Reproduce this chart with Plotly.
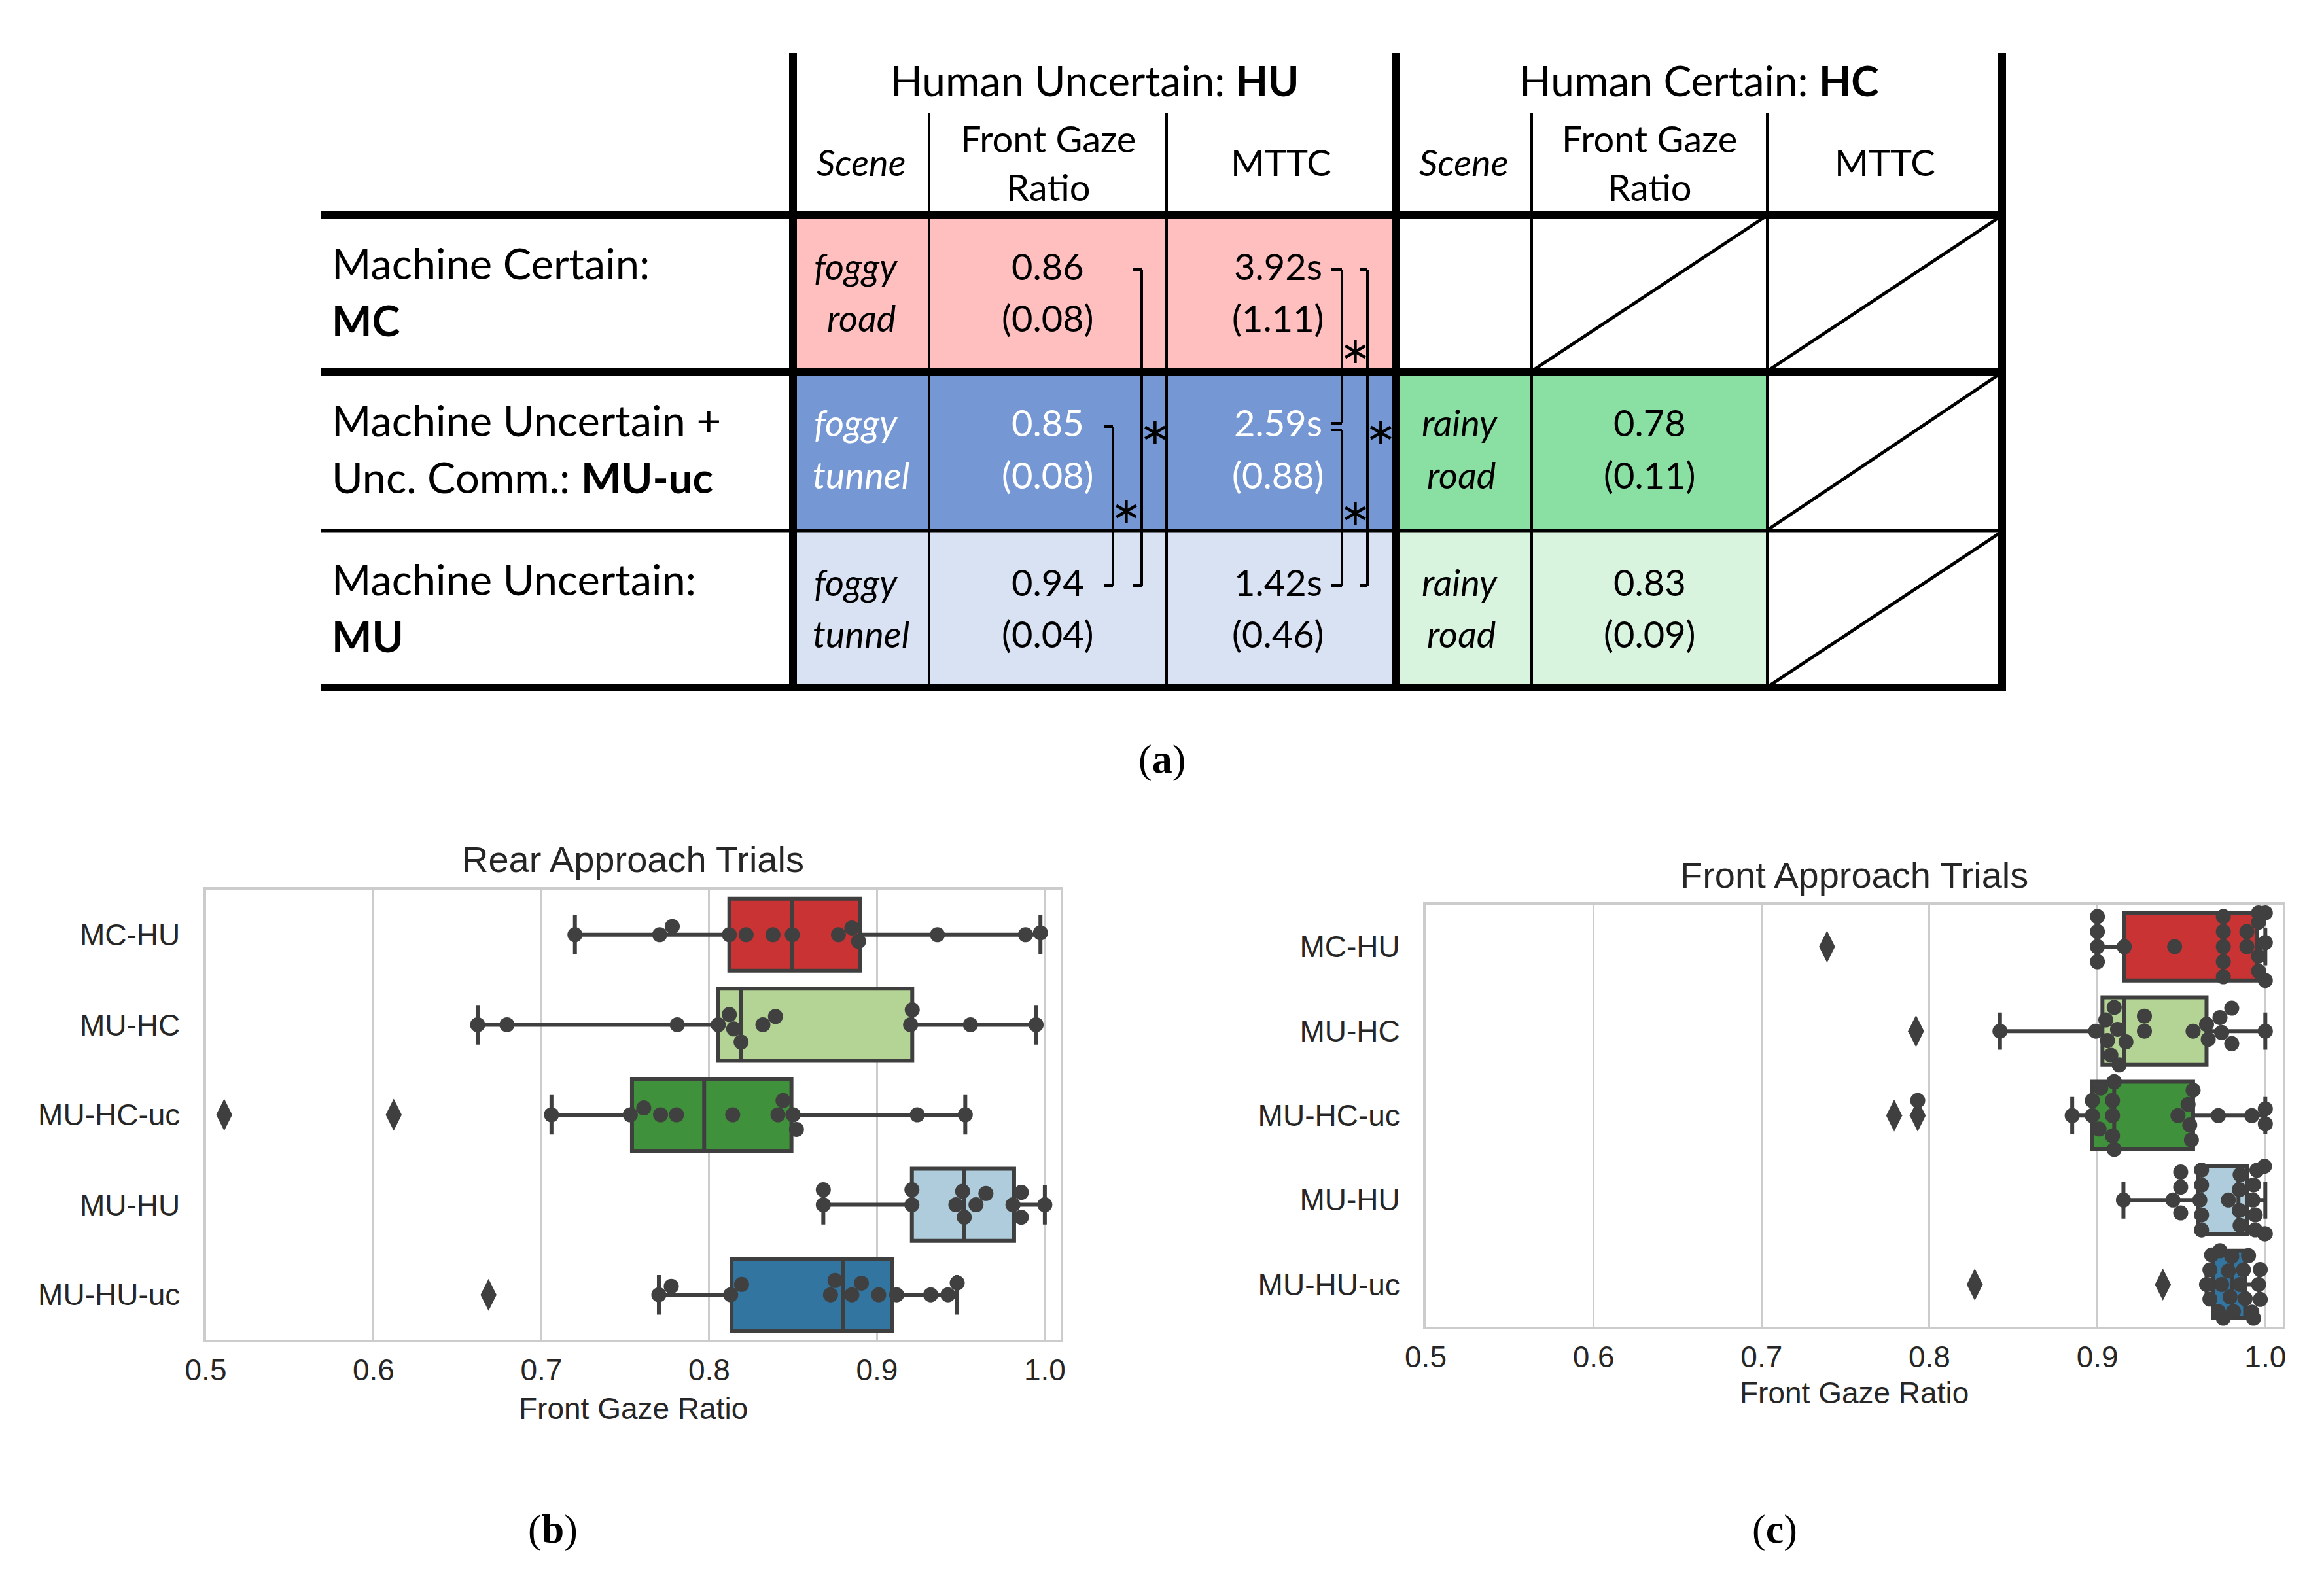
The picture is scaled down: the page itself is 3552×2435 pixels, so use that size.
import numpy as np
import plotly.graph_objects as go

W, H = 3552, 2435

# ---------------- table (a) data ----------------
group_headers = ["Human Uncertain: <b>HU</b>", "Human Certain: <b>HC</b>"]
sub_scene = "Scene"
sub_fgr = ["Front Gaze", "Ratio"]
sub_mttc = "MTTC"
row_label_l1 = ["Machine Certain:", "Machine Uncertain +", "Machine Uncertain:"]
row_label_l2 = ["<b>MC</b>", "Unc. Comm.: <b>MU-uc</b>", "<b>MU</b>"]
hu_scene_l1 = ["foggy", "foggy", "foggy"]
hu_scene_l2 = ["road", "tunnel", "tunnel"]
hu_fgr_mean = ["0.86", "0.85", "0.94"]
hu_fgr_sd = ["(0.08)", "(0.08)", "(0.04)"]
hu_mttc_mean = ["3.92s", "2.59s", "1.42s"]
hu_mttc_sd = ["(1.11)", "(0.88)", "(0.46)"]
hc_scene_l1 = ["", "rainy", "rainy"]
hc_scene_l2 = ["", "road", "road"]
hc_fgr_mean = ["", "0.78", "0.83"]
hc_fgr_sd = ["", "(0.11)", "(0.09)"]
hu_fill = ["#FFBFBF", "#7597D3", "#D9E2F3"]
hu_text = ["black", "white", "black"]
hc_fill = [None, "#8ADFA2", "#D8F3DE"]
fgr_sig_pairs = [(0, 2), (1, 2)]
mttc_sig_pairs = [(0, 1), (1, 2), (0, 2)]

# ---------------- box plot data ----------------
categories = ["MC-HU", "MU-HC", "MU-HC-uc", "MU-HU", "MU-HU-uc"]
box_colors = ["#CA3334", "#B3D495", "#40913B", "#AECCDB", "#3275A1"]

# (b) Rear approach trials
rear_q1 = [0.812, 0.8054, 0.754, 0.9208, 0.8133]
rear_med = [0.8495, 0.819, 0.797, 0.952, 0.8797]
rear_q3 = [0.890, 0.921, 0.849, 0.9817, 0.909]
rear_lo = [0.720, 0.662, 0.706, 0.868, 0.770]
rear_hi = [0.9974, 0.9948, 0.9526, 1.0, 0.9478]
rear_points = [
    [0.720, 0.7705, 0.778, 0.812, 0.822, 0.838, 0.8495, 0.877, 0.885, 0.889, 0.936, 0.9885, 0.9974],
    [0.662, 0.6795, 0.781, 0.8054, 0.812, 0.8146, 0.819, 0.832, 0.8395, 0.920, 0.921, 0.9557, 0.9948],
    [0.706, 0.753, 0.761, 0.771, 0.7805, 0.814, 0.841, 0.844, 0.850, 0.852, 0.924, 0.9526],
    [0.868, 0.868, 0.9208, 0.9208, 0.947, 0.951, 0.952, 0.959, 0.9649, 0.981, 0.986, 0.986, 1.0],
    [0.770, 0.7774, 0.8128, 0.8193, 0.8723, 0.875, 0.885, 0.8907, 0.901, 0.9117, 0.932, 0.9423, 0.9478],
]
rear_outliers = [[], [], [0.511, 0.612], [], [0.6685]]

# (c) Front approach trials
front_q1 = [0.916, 0.903, 0.897, 0.960, 0.969]
front_med = [0.975, 0.916, 0.910, 0.984, 0.980]
front_q3 = [0.995, 0.965, 0.957, 0.989, 0.988]
front_lo = [0.900, 0.842, 0.885, 0.9155, 0.965]
front_hi = [1.0, 1.0, 1.0, 1.0, 0.9965]
front_points = [
    [0.900, 0.900, 0.900, 0.900, 0.916, 0.946, 0.975, 0.975, 0.975, 0.975, 0.975,
     0.989, 0.989, 0.996, 0.996, 0.996, 0.996, 1.0, 1.0, 1.0],
    [0.842, 0.899, 0.905, 0.906, 0.908, 0.910, 0.912, 0.913, 0.917, 0.928, 0.928,
     0.957, 0.965, 0.966, 0.973, 0.974, 0.980, 0.980, 1.0],
    [0.793, 0.885, 0.897, 0.897, 0.901, 0.902, 0.909, 0.909, 0.909, 0.910, 0.910, 0.910,
     0.948, 0.954, 0.955, 0.956, 0.957, 0.972, 0.992, 1.0, 1.0],
    [0.9155, 0.945, 0.9496, 0.9496, 0.9496, 0.961, 0.962, 0.962, 0.962, 0.962, 0.978,
     0.9845, 0.9845, 0.985, 0.985, 0.9926, 0.993, 0.994, 0.994, 0.995, 0.9995, 0.9995, 1.0],
    [0.965, 0.967, 0.967, 0.968, 0.972, 0.973, 0.974, 0.975, 0.978, 0.979, 0.980, 0.981,
     0.985, 0.987, 0.988, 0.990, 0.992, 0.993, 0.996, 0.997, 0.997],
]
front_outliers = [[0.739], [0.792], [0.779, 0.793], [], [0.827, 0.939]]

x_ticks = [0.5, 0.6, 0.7, 0.8, 0.9, 1.0]
x_ticktext = ["0.5", "0.6", "0.7", "0.8", "0.9", "1.0"]

# ---------------- helpers ----------------
def px(x):
    return x / W


def py(y):
    return 1 - y / H


TFONT = "Lato"
PFONT = "Liberation Sans, Arial, sans-serif"
SFONT = "Liberation Serif, DejaVu Serif, serif"
shapes = []
annotations = []


def add_line(x0, y0, x1, y1, w, color="black"):
    shapes.append(dict(type="line", xref="paper", yref="paper",
                       x0=px(x0), y0=py(y0), x1=px(x1), y1=py(y1),
                       line=dict(color=color, width=w)))


def add_rect(x0, y0, x1, y1, fill):
    shapes.append(dict(type="rect", xref="paper", yref="paper",
                       x0=px(x0), y0=py(y0), x1=px(x1), y1=py(y1),
                       fillcolor=fill, line=dict(width=0), layer="below"))


def add_text(x, y, s, size=58, color="black", xanchor="center", italic=False, family=TFONT):
    if italic and s:
        s = "<i>%s</i>" % s
    if not s:
        return
    annotations.append(dict(xref="paper", yref="paper", x=px(x), y=py(y), text=s,
                            showarrow=False, xanchor=xanchor, yanchor="middle",
                            font=dict(family=family, size=size, color=color)))


# ---------------- table geometry (pixels) ----------------
TX_L, TX_R = 490, 3066
COLS = [1212, 1420, 1783, 2133, 2341, 2701, 3060]
ROWS = [328, 568, 811, 1051]
TOP, SUBTOP = 81, 172
THICK, THIN = 12, 4
col_c = [(COLS[i] + COLS[i + 1]) / 2 for i in range(6)]
L1, L2 = 84, 163
TS = 6  # text lift

# fills
for r in range(3):
    add_rect(COLS[0], ROWS[r], COLS[3], ROWS[r + 1], hu_fill[r])
    if hc_fill[r]:
        add_rect(COLS[3], ROWS[r], COLS[5], ROWS[r + 1], hc_fill[r])

# diagonals in empty cells
diag_cells = [(0, 4), (0, 5), (1, 5), (2, 5)]
for r, c in diag_cells:
    add_line(COLS[c] + 2, ROWS[r + 1] - 2, COLS[c + 1] - 4, ROWS[r] + 4, 5)

# grid lines
for i, y in enumerate(ROWS):
    add_line(TX_L, y, TX_R, y, THIN + 1 if i == 2 else THICK)
for i, x in enumerate(COLS):
    if i in (0, 3, 6):
        add_line(x, TOP, x, ROWS[-1] + 6, THICK)
    else:
        add_line(x, SUBTOP, x, ROWS[-1], THIN)

# headers
add_text((COLS[0] + COLS[3]) / 2, 122, group_headers[0], size=64)
add_text((COLS[3] + COLS[6]) / 2, 122, group_headers[1], size=64)
for g in range(2):
    add_text(col_c[3 * g], 247, sub_scene, size=56, italic=True)
    add_text(col_c[3 * g + 1], 211, sub_fgr[0], size=56)
    add_text(col_c[3 * g + 1], 286, sub_fgr[1], size=56)
    add_text(col_c[3 * g + 2], 247, sub_mttc, size=56)

# rows
for r in range(3):
    top = ROWS[r]
    add_text(505, top + L1 - 10, row_label_l1[r], size=65, xanchor="left")
    add_text(505, top + L2 - 2, row_label_l2[r], size=65, xanchor="left")
    tc = hu_text[r]
    y1, y2 = top + L1 - TS, top + L2 - TS
    add_text(col_c[0] - 8, y1, hu_scene_l1[r], size=56, color=tc, italic=True)
    add_text(col_c[0], y2, hu_scene_l2[r], size=56, color=tc, italic=True)
    add_text(col_c[1], y1, hu_fgr_mean[r], size=56, color=tc)
    add_text(col_c[1], y2, hu_fgr_sd[r], size=56, color=tc)
    add_text(col_c[2] - 4, y1, hu_mttc_mean[r], size=56, color=tc)
    add_text(col_c[2] - 4, y2, hu_mttc_sd[r], size=56, color=tc)
    add_text(col_c[3] - 6, y1, hc_scene_l1[r], size=56, italic=True)
    add_text(col_c[3] - 4, y2, hc_scene_l2[r], size=56, italic=True)
    add_text(col_c[4], y1, hc_fgr_mean[r], size=56)
    add_text(col_c[4], y2, hc_fgr_sd[r], size=56)


def bracket(x, r0, r1, tick, gap0=0, gap1=0):
    y0 = ROWS[r0] + L1 + gap0
    y1 = ROWS[r1] + L1 + gap1
    add_line(x, y0, x, y1, 4)
    add_line(x - tick, y0, x, y0, 4)
    add_line(x - tick, y1, x, y1, 4)
    add_text(x + 20, (y0 + y1) / 2 + 6, "∗", size=56, family="DejaVu Sans")


# FGR significance
fgr_x = {(0, 2): 1745, (1, 2): 1701}
for p in fgr_sig_pairs:
    bracket(fgr_x[p], p[0], p[1], 13)
# MTTC significance
mttc_x = {(0, 1): 2051, (1, 2): 2051, (0, 2): 2090}
mttc_gap = {(0, 1): (0, -5), (1, 2): (5, 0), (0, 2): (0, 0)}
for p in mttc_sig_pairs:
    g = mttc_gap[p]
    bracket(mttc_x[p], p[0], p[1], 16 if p != (0, 2) else 11, g[0], g[1])

# captions
add_text(1776, 1160, "(<b>a</b>)", size=62, family=SFONT)
add_text(845, 2337, "(<b>b</b>)", size=62, family=SFONT)
add_text(2712, 2337, "(<b>c</b>)", size=62, family=SFONT)

# ---------------- box plots ----------------
panels = [
    dict(x0=314.5, x1=1621, y0=1360, y1=2048, xmax=1.0094, title="Rear Approach Trials",
         title_y=1313, xt_y=2153, q1=rear_q1, med=rear_med, q3=rear_q3, lo=rear_lo, hi=rear_hi,
         pts=rear_points, outl=rear_outliers),
    dict(x0=2179, x1=3489, y0=1382.5, y1=2028, xmax=1.0104, title="Front Approach Trials",
         title_y=1337, xt_y=2129, q1=front_q1, med=front_med, q3=front_q3, lo=front_lo, hi=front_hi,
         pts=front_points, outl=front_outliers),
]

DOT = 23.0
BOX_W = 0.8


def beeswarm(vals, obstacles, xscale, halfw):
    vals = np.asarray(vals, dtype=float)
    order = np.argsort(vals, kind="stable")
    placed = [(v * xscale, 0.0) for v in obstacles]
    offs = np.zeros(len(vals))
    for i in order:
        x = vals[i] * xscale
        neigh = [(a, b) for a, b in placed if abs(a - x) < DOT]
        cands = [0.0]
        for a, b in neigh:
            dy = np.sqrt(max(DOT * DOT - (a - x) ** 2, 0.0))
            cands += [b - dy, b + dy]
        idx = sorted(range(len(cands)), key=lambda k: abs(cands[k]))
        pos = cands[idx[0]]
        for k in idx:
            c = cands[k]
            if all((a - x) ** 2 + (b - c) ** 2 >= DOT * DOT - 1e-6 for a, b in neigh):
                pos = c
                break
        placed.append((x, pos))
        offs[i] = max(-halfw, min(halfw, pos))
    return offs


fig = go.Figure()
scatter_traces = []
for k, P in enumerate(panels):
    xa = "x" if k == 0 else "x2"
    ya = "y" if k == 0 else "y2"
    xscale = (P["x1"] - P["x0"]) / (P["xmax"] - 0.5)
    yscale = (P["y1"] - P["y0"]) / 5.0
    for i, cat in enumerate(categories):
        fig.add_trace(go.Box(
            y=[i], q1=[P["q1"][i]], median=[P["med"][i]], q3=[P["q3"][i]],
            lowerfence=[P["lo"][i]], upperfence=[P["hi"][i]],
            orientation="h", width=BOX_W, whiskerwidth=0.55,
            fillcolor=box_colors[i], line=dict(color="#3f3f3f", width=6),
            boxpoints=False, xaxis=xa, yaxis=ya, showlegend=False, hoverinfo="skip"))
        if P["outl"][i]:
            scatter_traces.append(go.Scatter(
                x=P["outl"][i], y=[i] * len(P["outl"][i]), mode="markers",
                marker=dict(symbol="diamond-tall", size=35, color="#3f3f3f", line=dict(width=0)),
                xaxis=xa, yaxis=ya, showlegend=False, hoverinfo="skip"))
        offs = beeswarm(P["pts"][i], P["outl"][i], xscale, BOX_W / 2 * yscale)
        scatter_traces.append(go.Scatter(
            x=P["pts"][i], y=[i + o / yscale for o in offs], mode="markers",
            marker=dict(size=DOT, color="#404040", line=dict(width=0)),
            xaxis=xa, yaxis=ya, showlegend=False, hoverinfo="skip"))
for t in scatter_traces:
    fig.add_trace(t)

axis_common = dict(showline=True, mirror=True, linecolor="#cccccc", linewidth=4,
                   zeroline=False, ticks="outside", tickcolor="rgba(0,0,0,0)",
                   automargin=False,
                   tickfont=dict(family=PFONT, size=46, color="#262626"))
layout_axes = {}
for k, P in enumerate(panels):
    sx = "" if k == 0 else "2"
    layout_axes["xaxis" + sx] = dict(
        domain=[px(P["x0"]), px(P["x1"])], range=[0.5, P["xmax"]],
        tickvals=x_ticks, ticktext=x_ticktext, showgrid=True, gridcolor="#cccccc",
        gridwidth=3, ticklen=3, anchor="y" + sx, **axis_common)
    layout_axes["yaxis" + sx] = dict(
        domain=[py(P["y1"]), py(P["y0"])], range=[4.5, -0.5],
        tickvals=list(range(5)), ticktext=categories, showgrid=False,
        ticklen=26, anchor="x" + sx, **axis_common)
    cx = (P["x0"] + P["x1"]) / 2
    add_text(cx, P["title_y"], P["title"], size=56, color="#262626", family=PFONT)
    add_text(cx, P["xt_y"], "Front Gaze Ratio", size=46, color="#262626", family=PFONT)

fig.update_layout(
    width=W, height=H, margin=dict(l=0, r=0, t=0, b=0, autoexpand=False),
    paper_bgcolor="white", plot_bgcolor="white", boxmode="overlay",
    showlegend=False, shapes=shapes, annotations=annotations, **layout_axes)

fig.write_html("out.html", config={"displayModeBar": False},
               post_script="document.body.style.margin='0px';")
